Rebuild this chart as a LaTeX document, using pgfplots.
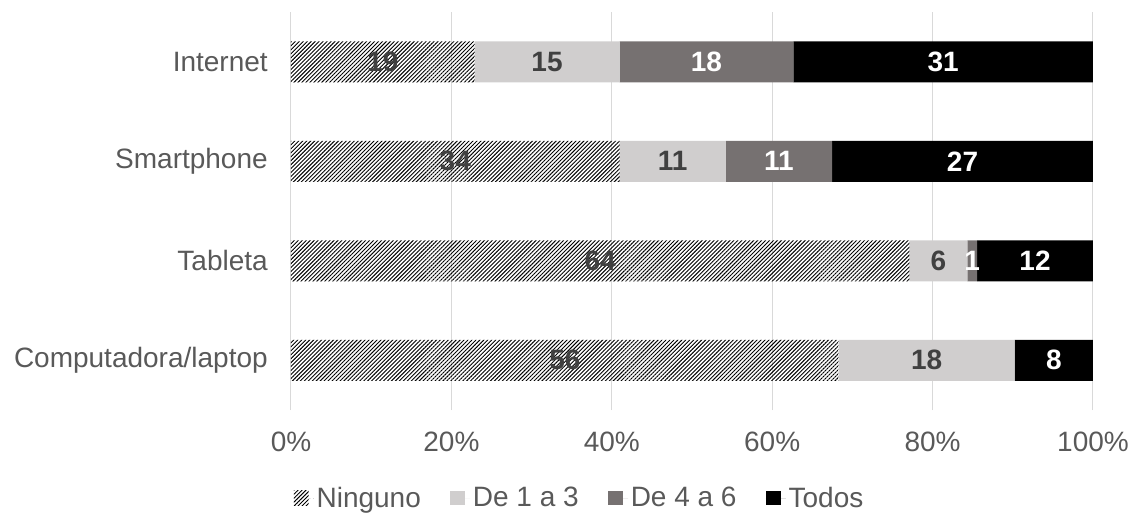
\documentclass[border=0pt]{standalone}
\usepackage{pgfplots}
\pgfplotsset{compat=1.18}
\usepackage{pgfplotstable}
\usetikzlibrary{patterns.meta}
\usepackage{fontspec}
\setmainfont{Liberation Sans}
\definecolor{lg}{HTML}{D0CECE}
\definecolor{dg}{HTML}{767171}
\definecolor{txt}{HTML}{595959}
\definecolor{lbl}{HTML}{404040}
\definecolor{grd}{HTML}{D9D9D9}

\pgfplotstableread{
y a b c d t
0 56 18 0 8 82
1 64 6 1 12 83
2 34 11 11 27 83
3 19 15 18 31 83
}\data

\begin{document}
\begin{tikzpicture}
\path[use as bounding box] (-218.25pt,-78.75pt) rectangle (631.5pt,307.5pt);
\pgfplotsset{
 common/.style={
  scale only axis, width=601.5pt, height=298.5pt,
  xmin=0, xmax=100, ymin=-0.5, ymax=3.5,
  at={(0,0)}, anchor=south west,
  /pgf/number format/assume math mode=true,
 },
 sq/.style={legend image code/.code={\fill[##1] (0pt,-5.5pt) rectangle (11pt,5.5pt); \path (0pt,0pt) -- (15pt,0pt);}},
}
\begin{axis}[common, xbar stacked, bar width=30.75pt,
  axis line style={draw=none},
  xtick={0,20,...,100}, xticklabel={\pgfmathprintnumber{\tick}\%},
  ytick={0,1,2,3}, yticklabels={Computadora/laptop,Tableta,Smartphone,Internet},
  major tick length=0pt,
  xmajorgrids, grid style={grd, line width=0.75pt},
  tick label style={font=\fontsize{21}{25}\selectfont, text=txt},
  xticklabel style={anchor=center, yshift=-23.8pt},
  yticklabel style={anchor=east, inner sep=0pt, xshift=-17.25pt},
  legend style={at={(0.3603,-0.2211)}, anchor=center, draw=none, fill=none,
    legend columns=4, font=\fontsize{21}{25}\selectfont, text=txt,
    /tikz/every even column/.append style={column sep=20pt},
    cells={anchor=west}},
 ]
\addplot[sq, draw=none, pattern={Lines[angle=45,distance=2.1pt,line width=0.7pt]}, pattern color=black]
  table[x expr={\thisrow{a}/\thisrow{t}*100}, y=y] {\data};
\addplot[sq, draw=none, fill=lg] table[x expr={\thisrow{b}/\thisrow{t}*100}, y=y] {\data};
\addplot[sq, draw=none, fill=dg] table[x expr={\thisrow{c}/\thisrow{t}*100}, y=y] {\data};
\addplot[sq, draw=none, fill=black] table[x expr={\thisrow{d}/\thisrow{t}*100}, y=y] {\data};
\legend{Ninguno, De 1 a 3, De 4 a 6, Todos}
\end{axis}
\begin{axis}[common, hide axis,
  nodes near coords, nodes near coords align=center, point meta=explicit,
  every node near coord/.append style={font=\bfseries\fontsize{21}{25}\selectfont, anchor=center},
 ]
\addplot[draw=none, mark=none, every node near coord/.append style={text=lbl}]
  table[x expr={\thisrow{a}/2/\thisrow{t}*100}, y=y, meta=a] {\data};
\addplot[draw=none, mark=none, every node near coord/.append style={text=lbl}]
  table[x expr={(\thisrow{a}+\thisrow{b}/2)/\thisrow{t}*100}, y=y, meta=b] {\data};
\addplot[draw=none, mark=none, every node near coord/.append style={text=white},
  restrict expr to domain={\thisrow{c}}{0.5:1000}]
  table[x expr={(\thisrow{a}+\thisrow{b}+\thisrow{c}/2)/\thisrow{t}*100}, y=y, meta=c] {\data};
\addplot[draw=none, mark=none, every node near coord/.append style={text=white}]
  table[x expr={(\thisrow{a}+\thisrow{b}+\thisrow{c}+\thisrow{d}/2)/\thisrow{t}*100}, y=y, meta=d] {\data};
\end{axis}
\end{tikzpicture}
\end{document}
